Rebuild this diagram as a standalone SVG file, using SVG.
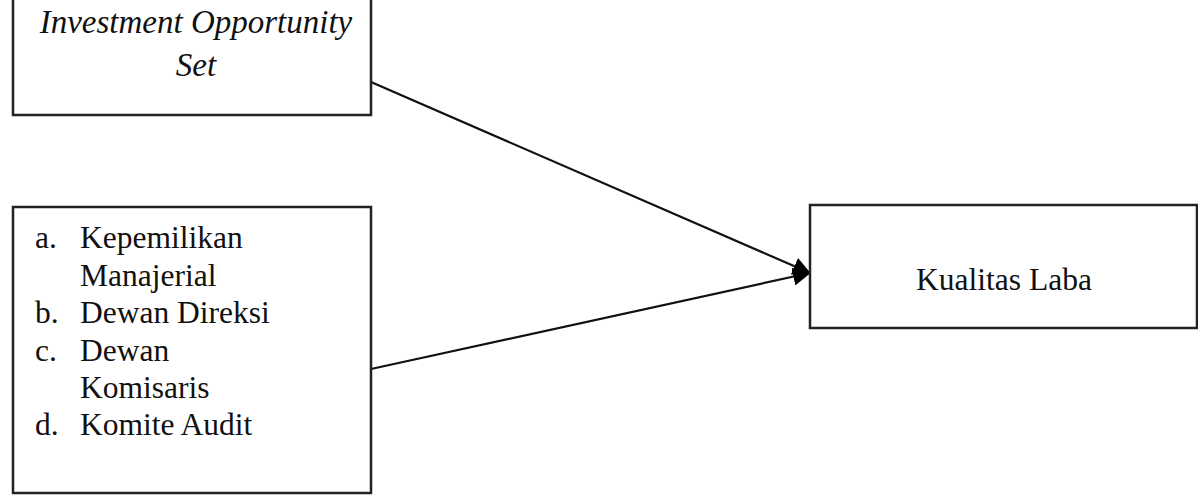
<svg xmlns="http://www.w3.org/2000/svg" width="1198" height="498" viewBox="0 0 1198 498">
<style>
.box{fill:#fff;stroke:#222;stroke-width:2.5}
.t{font-family:"Liberation Serif",serif;font-size:31.5px;fill:#111}
.i{font-style:italic;font-size:33px}
.c{stroke:#111;stroke-width:2.2;fill:none}
</style>
<defs>
<marker id="arr" viewBox="0 0 18 18" refX="17" refY="9" markerWidth="18" markerHeight="18" markerUnits="userSpaceOnUse" orient="auto">
<path d="M0,0 L18,9 L0,18 z" fill="#000"/>
</marker>
</defs>
<g id="connectors">
<line class="c" x1="371" y1="82" x2="810" y2="273" marker-end="url(#arr)"/>
<line class="c" x1="371" y1="369" x2="810" y2="273" marker-end="url(#arr)"/>
</g>
<g id="ios">
<rect class="box" x="13" y="-5" width="358" height="120"/>
<text class="t i" x="196" y="33" text-anchor="middle">Investment Opportunity</text>
<text class="t i" x="196" y="76" text-anchor="middle">Set</text>
</g>
<g id="gcg">
<rect class="box" x="13" y="207" width="358" height="286"/>
<text class="t" x="35" y="248">a.</text><text class="t" x="80" y="248">Kepemilikan</text>
<text class="t" x="80" y="286">Manajerial</text>
<text class="t" x="35" y="323">b.</text><text class="t" x="80" y="323">Dewan Direksi</text>
<text class="t" x="35" y="361">c.</text><text class="t" x="80" y="361">Dewan</text>
<text class="t" x="80" y="398">Komisaris</text>
<text class="t" x="35" y="435">d.</text><text class="t" x="80" y="435">Komite Audit</text>
</g>
<g id="kualitas">
<rect class="box" x="810" y="205" width="387" height="123"/>
<text class="t" x="1004" y="290" text-anchor="middle">Kualitas Laba</text>
</g>
</svg>
